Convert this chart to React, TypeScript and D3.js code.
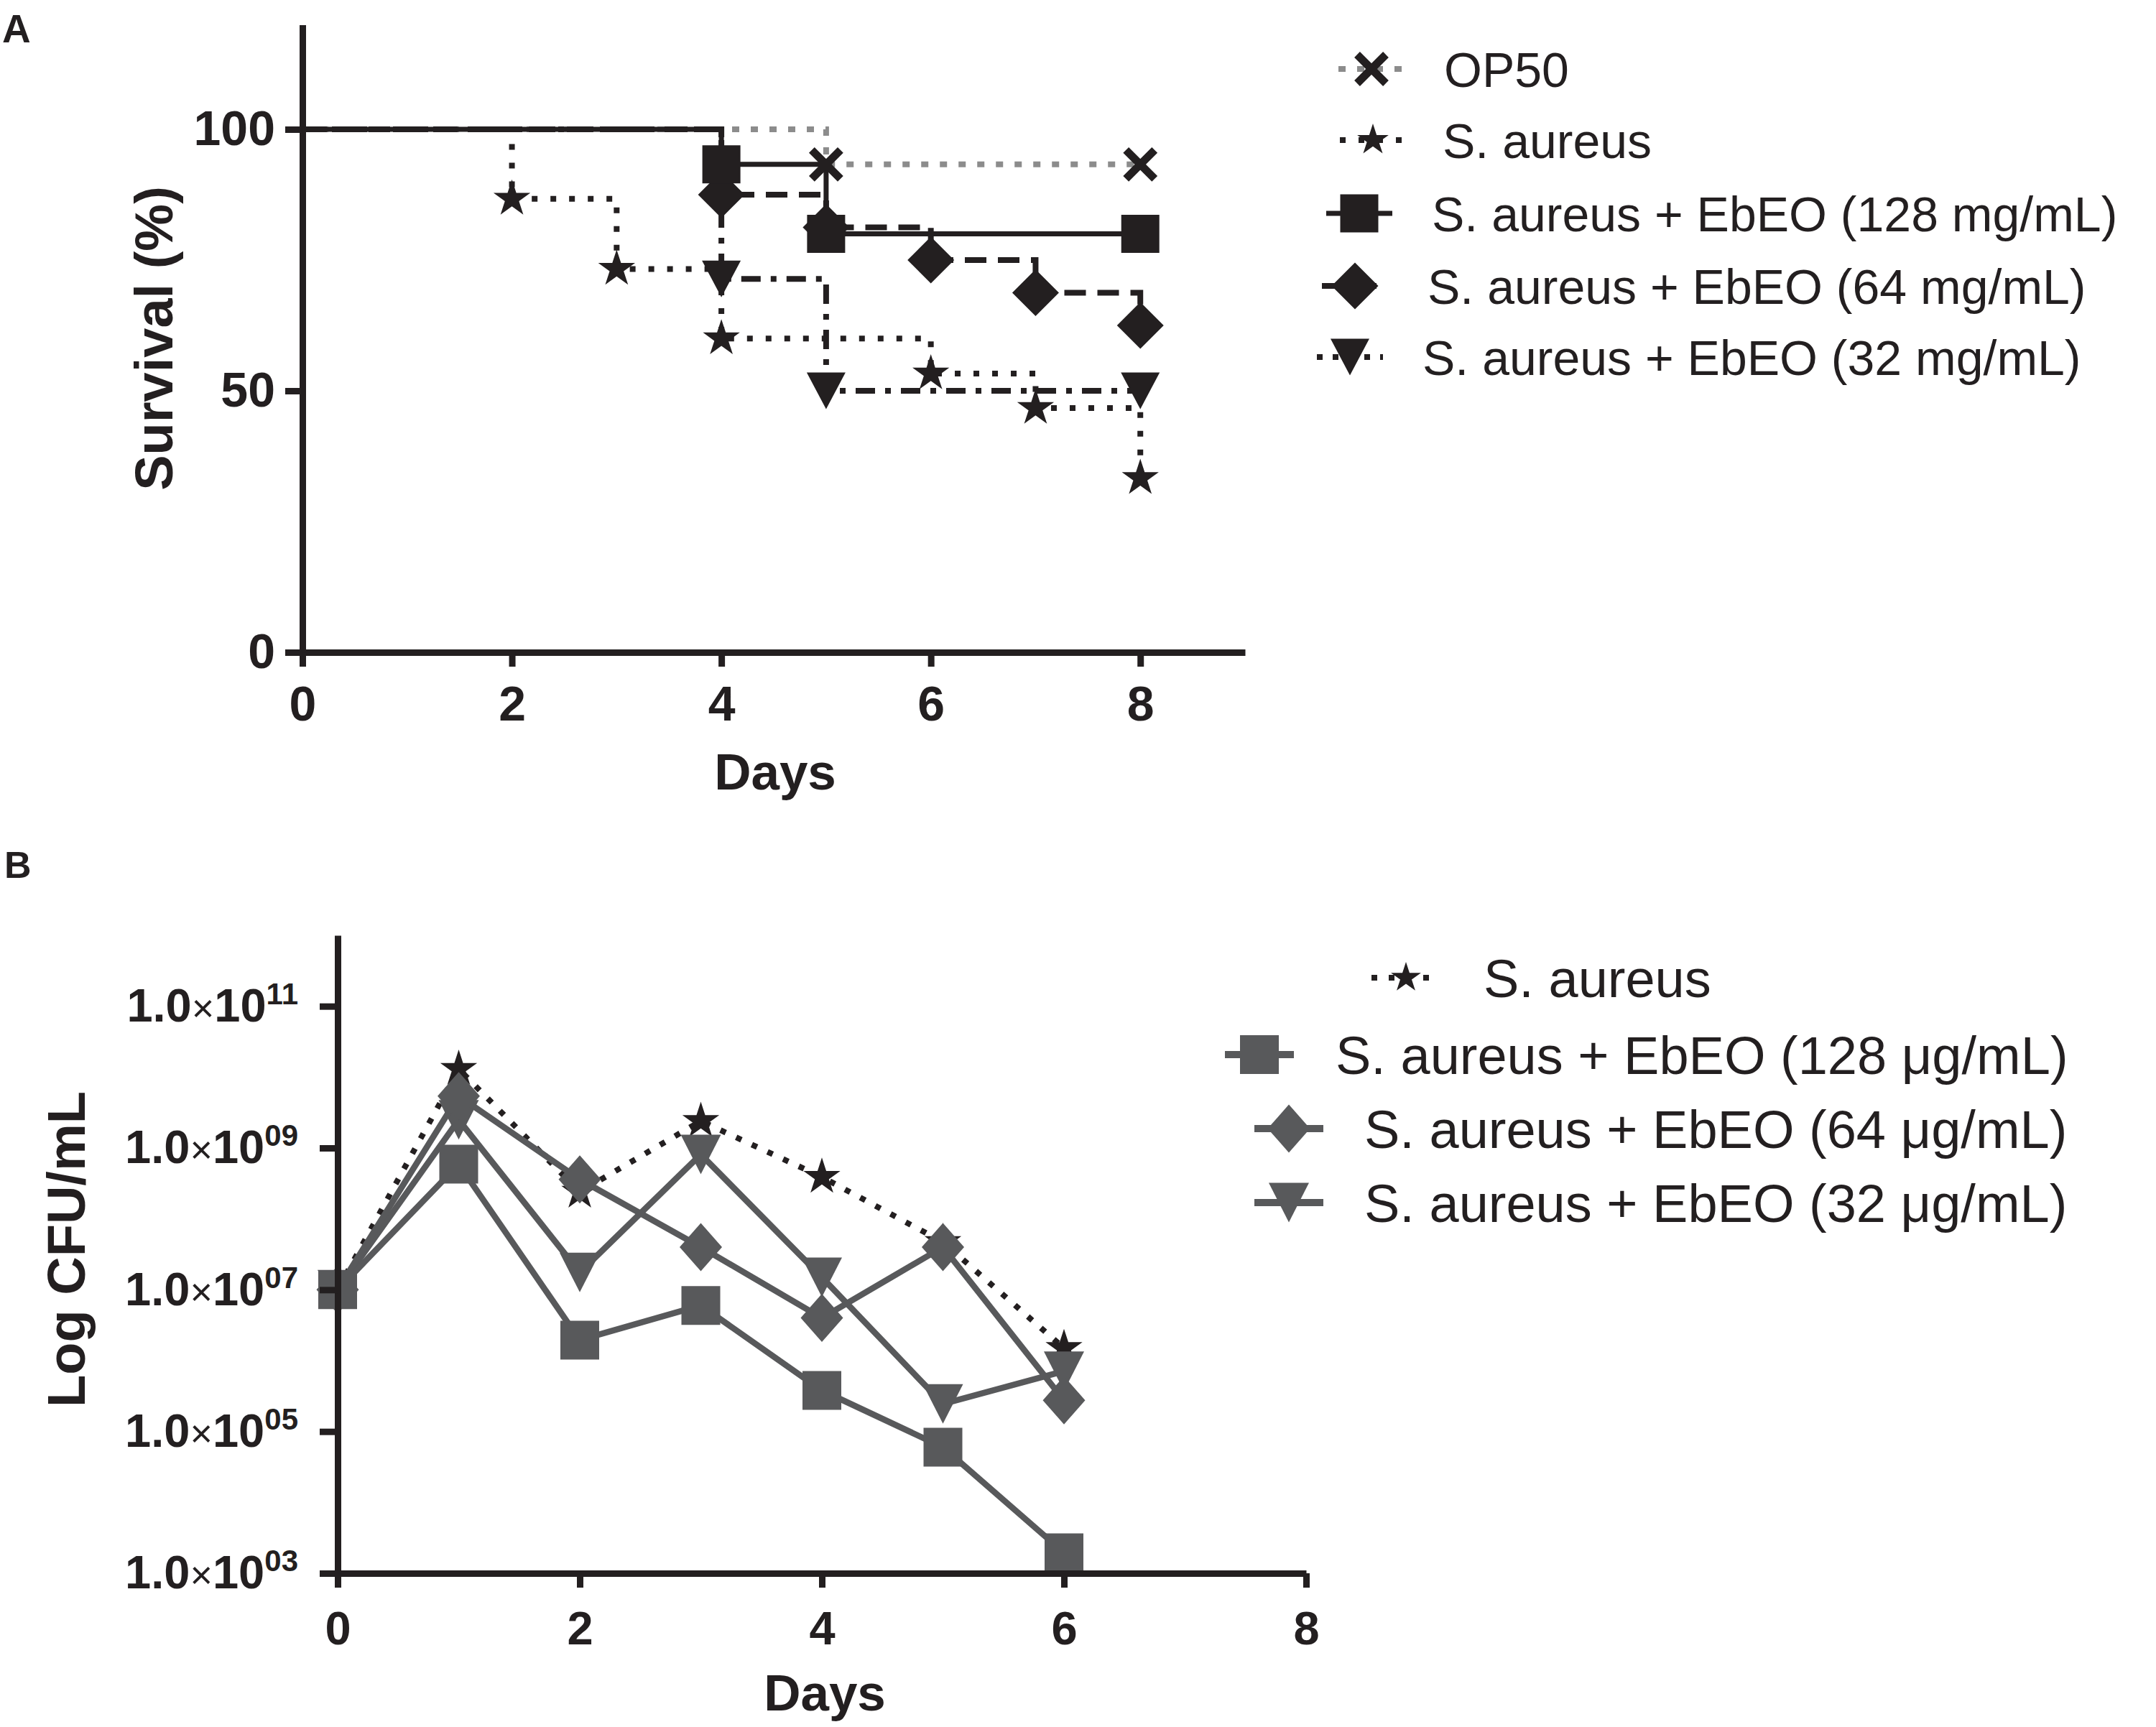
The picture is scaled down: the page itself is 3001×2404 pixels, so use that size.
import React, { useEffect, useRef } from "react";
import * as d3 from "d3";

// ---- Panel A: survival (%) per day ----
const op50Days = [0, 5, 8];
const op50Survival = [100, 93.3, 93.3];
const saDays = [0, 2, 3, 4, 6, 7, 8];
const saSurvival = [100, 86.7, 73.3, 60, 53.3, 46.7, 33.3];
const eb128Days = [0, 4, 5, 8];
const eb128Survival = [100, 93.3, 80, 80];
const eb64Days = [0, 4, 5, 6, 7, 8];
const eb64Survival = [100, 87.5, 81.25, 75, 68.75, 62.5];
const eb32Days = [0, 4, 5, 8];
const eb32Survival = [100, 71.4, 50, 50];
const survivalLabels = [
  "OP50",
  "S. aureus",
  "S. aureus + EbEO (128 mg/mL)",
  "S. aureus + EbEO (64 mg/mL)",
  "S. aureus + EbEO (32 mg/mL)",
];
const survivalTicksX = [0, 2, 4, 6, 8];
const survivalTicksY = [0, 50, 100];

// ---- Panel B: CFU/mL per day ----
const cfuDays = [0, 1, 2, 3, 4, 5, 6];
const cfuSa = [1e7, 1.3e10, 2.4e8, 2.4e9, 3.9e8, 4.7e7, 1.5e6];
const cfu128 = [1e7, 5.9e8, 1.95e6, 6.0e6, 3.8e5, 6.0e4, 1.95e3];
const cfu64 = [1e7, 5.4e9, 3.6e8, 4.0e7, 4.0e6, 4.0e7, 2.75e5];
const cfu32 = [1e7, 2.5e9, 1.75e7, 8.1e8, 1.5e7, 2.45e5, 7.1e5];
const cfuLabels = [
  "S. aureus",
  "S. aureus + EbEO (128 \u03bcg/mL)",
  "S. aureus + EbEO (64 \u03bcg/mL)",
  "S. aureus + EbEO (32 \u03bcg/mL)",
];
const cfuTicksX = [0, 2, 4, 6, 8];
const cfuTicksY = [1e3, 1e5, 1e7, 1e9, 1e11];

const FONT = "'Liberation Sans', Arial, Helvetica, sans-serif";
const INK = "#231f20";
const GREY_A = "#8c8c8c";
const GREY_B = "#58595b";

type Marker = "x" | "star" | "square" | "diamond" | "triangle";

// marker outline centred on 0,0 (size = nominal width in px)
function markerPath(kind: Marker, w: number, h: number = w): string {
  switch (kind) {
    case "square":
      return d3.symbol(d3.symbolSquare, w * w)() as string;
    case "star":
      return d3.symbol(d3.symbolStar, (w / 2) ** 2 / 0.8908130915292852)() as string;
    case "diamond":
      return `M0,${-h / 2}L${w / 2},0L0,${h / 2}L${-w / 2},0Z`;
    case "triangle":
      return `M${-w / 2},${-h / 2}L${w / 2},${-h / 2}L0,${h / 2}Z`;
    case "x":
      return `M${-w / 2},${-w / 2}L${w / 2},${w / 2}M${-w / 2},${w / 2}L${w / 2},${-w / 2}`;
  }
}

function drawMarker(
  g: d3.Selection<SVGGElement, unknown, null, undefined>,
  kind: Marker,
  x: number,
  y: number,
  color: string,
  w: number,
  h?: number
) {
  const p = g
    .append("path")
    .attr("d", markerPath(kind, w, h))
    .attr("transform", `translate(${x},${y})`);
  if (kind === "x") {
    p.attr("fill", "none").attr("stroke", color).attr("stroke-width", 11);
  } else {
    p.attr("fill", color);
  }
}

const App: React.FC = () => {
  const svgRef = useRef<SVGSVGElement>(null);

  useEffect(() => {
    if (!svgRef.current) return;
    const svg = d3.select(svgRef.current);
    svg.selectAll("*").remove();
    const root = svg.append("g");

    // ================= Panel A =================
    const xA = d3.scaleLinear().domain([0, 9]).range([421, 1733]);
    const yA = d3.scaleLinear().domain([0, 120]).range([908, 34.4]);

    const gA = root.append("g");

    const stepLine = d3
      .line<[number, number]>()
      .x((d) => xA(d[0]))
      .y((d) => yA(d[1]))
      .curve(d3.curveStepAfter);

    const kmSeries = [
      { days: op50Days, surv: op50Survival, color: GREY_A, dash: "10,16", width: 8, marker: "x" as Marker, w: 40, h: 40 },
      { days: saDays, surv: saSurvival, color: INK, dash: "8,18", width: 8, marker: "star" as Marker, w: 54, h: 54 },
      { days: eb32Days, surv: eb32Survival, color: INK, dash: "27,14,8,14", width: 8, marker: "triangle" as Marker, w: 54, h: 51 },
      { days: eb64Days, surv: eb64Survival, color: INK, dash: "30,16", width: 8, marker: "diamond" as Marker, w: 65, h: 65 },
      { days: eb128Days, surv: eb128Survival, color: INK, dash: null, width: 7, marker: "square" as Marker, w: 53, h: 53 },
    ];

    kmSeries.forEach((s) => {
      const pts = s.days.map((d, i) => [d, s.surv[i]] as [number, number]);
      gA.append("path")
        .attr("d", stepLine(pts) as string)
        .attr("fill", "none")
        .attr("stroke", s.color)
        .attr("stroke-width", s.width)
        .attr("stroke-dasharray", s.dash);
    });
    kmSeries.forEach((s) => {
      s.days.forEach((d, i) => {
        if (i === 0) return;
        drawMarker(gA, s.marker, xA(d), yA(s.surv[i]), INK, s.w, s.h);
      });
    });

    // axes A
    const axA = root.append("g").attr("color", INK);
    axA
      .append("g")
      .attr("transform", `translate(0,${yA(0)})`)
      .call(d3.axisBottom(xA).tickValues(survivalTicksX).tickSize(20).tickSizeOuter(0).tickPadding(27).tickFormat(d3.format("d")))
      .call((g) => g.selectAll("path, line").attr("stroke-width", 9));
    axA
      .append("g")
      .attr("transform", `translate(${xA(0)},0)`)
      .call(d3.axisLeft(yA).tickValues(survivalTicksY).tickSize(24).tickSizeOuter(0).tickPadding(14).tickFormat(d3.format("d")))
      .call((g) => g.selectAll("path, line").attr("stroke-width", 9));
    axA
      .selectAll("g")
      .attr("font-size", 68)
      .attr("font-family", FONT)
      .attr("font-weight", "bold");

    root.append("text")
      .attr("x", 1079).attr("y", 1099)
      .attr("text-anchor", "middle")
      .attr("font-family", FONT).attr("font-weight", "bold").attr("font-size", 71)
      .attr("fill", INK)
      .text("Days");
    root.append("text")
      .attr("transform", "translate(240,471) rotate(-90)")
      .attr("text-anchor", "middle")
      .attr("font-family", FONT).attr("font-weight", "bold").attr("font-size", 74)
      .attr("fill", INK)
      .text("Survival (%)");

    // legend A
    const legendA = [
      { cx: 1909, cy: 96, tx: 2010 },
      { cx: 1911, cy: 195, tx: 2008 },
      { cx: 1892, cy: 297, tx: 1993 },
      { cx: 1886, cy: 398, tx: 1987 },
      { cx: 1879, cy: 497, tx: 1980 },
    ];
    const legendOrderA = [0, 1, 4, 3, 2];
    survivalLabels.forEach((label, i) => {
      const s = kmSeries[legendOrderA[i]];
      const pos = legendA[i];
      const lg = root.append("g");
      lg.append("line")
        .attr("x1", pos.cx - 46).attr("x2", pos.cx + 46)
        .attr("y1", pos.cy).attr("y2", pos.cy)
        .attr("stroke", s.color).attr("stroke-width", s.width)
        .attr("stroke-dasharray", s.marker === "triangle" ? "8,14" : s.dash);
      drawMarker(lg, s.marker, pos.cx, pos.cy, INK, s.marker === "star" ? 46 : s.w, s.marker === "star" ? 46 : s.h);
      lg.append("text")
        .attr("x", pos.tx).attr("y", pos.cy + 25)
        .attr("font-family", FONT).attr("font-size", 68)
        .attr("fill", INK)
        .text(label);
    });

    // ================= Panel B =================
    const xB = d3.scaleLinear().domain([0, 8]).range([470, 1818]);
    const yB = d3.scaleLog().domain([1e3, 1e12]).range([2190, 1302]);
    const gB = root.append("g");

    const cfuLine = d3
      .line<[number, number]>()
      .x((d) => xB(d[0]))
      .y((d) => yB(d[1]));

    const cfuSeries = [
      { values: cfuSa, color: INK, dash: "8,16", width: 8, marker: "star" as Marker, w: 54, h: 54, label: 0 },
      { values: cfu32, color: GREY_B, dash: null, width: 8.5, marker: "triangle" as Marker, w: 56, h: 55, label: 3 },
      { values: cfu64, color: GREY_B, dash: null, width: 8.5, marker: "diamond" as Marker, w: 59, h: 67, label: 2 },
      { values: cfu128, color: GREY_B, dash: null, width: 8.5, marker: "square" as Marker, w: 54, h: 54, label: 1 },
    ];

    cfuSeries.forEach((s) => {
      const pts = cfuDays.map((d, i) => [d, s.values[i]] as [number, number]);
      gB.append("path")
        .attr("d", cfuLine(pts) as string)
        .attr("fill", "none")
        .attr("stroke", s.color)
        .attr("stroke-width", s.width)
        .attr("stroke-linejoin", "miter")
        .attr("stroke-dasharray", s.dash);
      pts.forEach((p) => drawMarker(gB, s.marker, xB(p[0]), yB(p[1]), s.color, s.w, s.h));
    });

    // axes B
    const axB = root.append("g").attr("color", INK);
    axB
      .append("g")
      .attr("transform", `translate(0,${yB(1e3)})`)
      .call(d3.axisBottom(xB).tickValues(cfuTicksX).tickSize(20).tickSizeOuter(0).tickPadding(33).tickFormat(d3.format("d")))
      .call((g) => g.selectAll("path, line").attr("stroke-width", 9));
    axB
      .append("g")
      .attr("transform", `translate(${xB(0)},0)`)
      .call(d3.axisLeft(yB).tickValues(cfuTicksY).tickSize(25).tickSizeOuter(0).tickPadding(30).tickFormat(() => ""))
      .call((g) => g.selectAll("path, line").attr("stroke-width", 9))
      .call((g) =>
        g.selectAll<SVGTextElement, number>(".tick text").each(function (d) {
          const t = d3.select(this);
          const exp = Math.round(Math.log10(d));
          t.append("tspan").text("1.0");
          t.append("tspan").attr("font-weight", "normal").attr("font-size", 54).text("\u00d7");
          t.append("tspan").text("10");
          t.append("tspan")
            .attr("font-size", 42)
            .attr("dy", -24)
            .text(String(exp).padStart(2, "0"));
        })
      );
    axB
      .selectAll("g")
      .attr("font-size", 65)
      .attr("font-family", FONT)
      .attr("font-weight", "bold");
    axB.select("g").attr("font-size", 68);

    root.append("text")
      .attr("x", 1148).attr("y", 2381)
      .attr("text-anchor", "middle")
      .attr("font-family", FONT).attr("font-weight", "bold").attr("font-size", 71)
      .attr("fill", INK)
      .text("Days");
    root.append("text")
      .attr("transform", "translate(118,1739) rotate(-90)")
      .attr("text-anchor", "middle")
      .attr("font-family", FONT).attr("font-weight", "bold").attr("font-size", 74)
      .attr("fill", INK)
      .text("Log CFU/mL");

    // legend B
    const legendB = [
      { cx: 1957, cy: 1361, tx: 2065 },
      { cx: 1753, cy: 1468, tx: 1859 },
      { cx: 1794, cy: 1571, tx: 1899 },
      { cx: 1794, cy: 1674, tx: 1899 },
    ];
    cfuLabels.forEach((label, i) => {
      const s = cfuSeries.find((c) => c.label === i)!;
      const pos = legendB[i];
      const lg = root.append("g");
      lg.append("line")
        .attr("x1", pos.cx - 48).attr("x2", pos.cx + 48)
        .attr("y1", pos.cy).attr("y2", pos.cy)
        .attr("stroke", s.color).attr("stroke-width", s.dash ? 8 : 10)
        .attr("stroke-dasharray", s.dash);
      drawMarker(lg, s.marker, pos.cx, pos.cy, s.color, s.marker === "star" ? 44 : s.w, s.marker === "star" ? 44 : s.h);
      lg.append("text")
        .attr("x", pos.tx).attr("y", pos.cy + 27)
        .attr("font-family", FONT).attr("font-size", 74)
        .attr("fill", INK)
        .text(label);
    });

    // panel letters
    root.append("text")
      .attr("x", 3).attr("y", 59)
      .attr("font-family", FONT).attr("font-weight", "bold").attr("font-size", 55)
      .attr("fill", INK)
      .text("A");
    root.append("text")
      .attr("x", 6).attr("y", 1222)
      .attr("font-family", FONT).attr("font-weight", "bold").attr("font-size", 52)
      .attr("fill", INK)
      .text("B");
  }, []);

  return (
    <svg
      ref={svgRef}
      width={3001}
      height={2404}
      style={{ position: "absolute", left: 0, top: 0, background: "#fff" }}
    />
  );
};

export default App;
